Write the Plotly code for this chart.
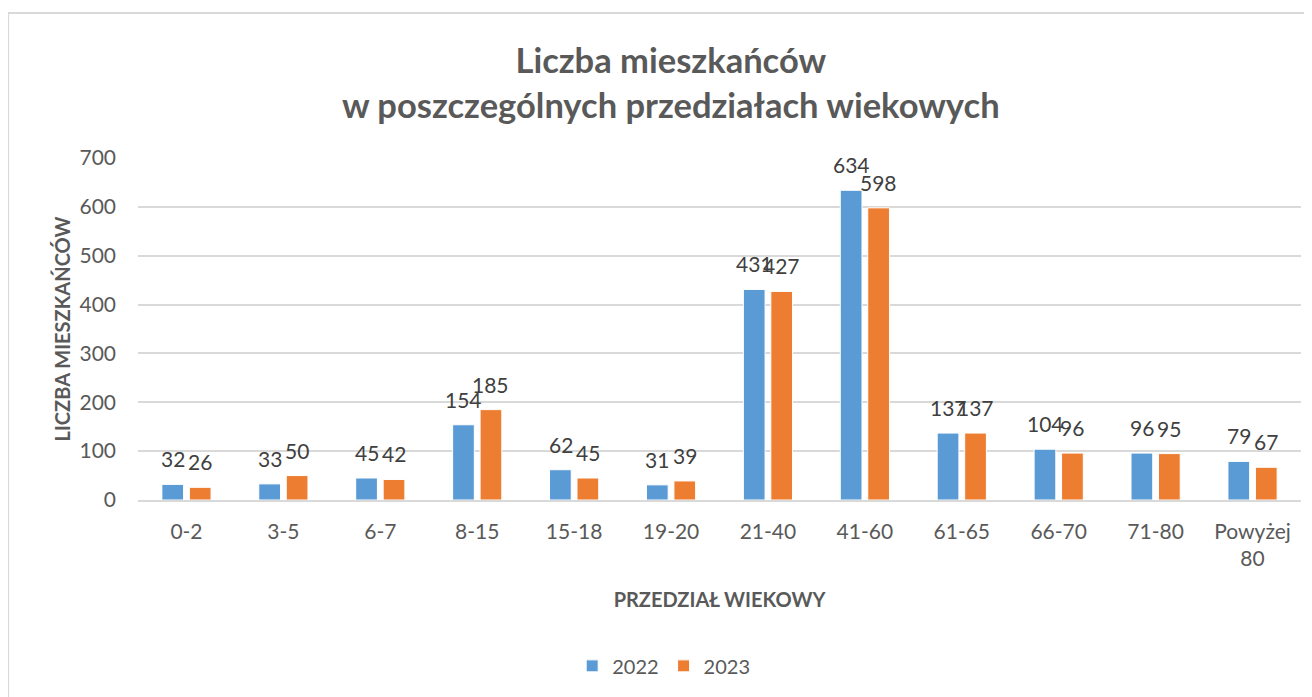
import plotly.graph_objects as go

categories = ["0-2", "3-5", "6-7", "8-15", "15-18", "19-20", "21-40", "41-60",
              "61-65", "66-70", "71-80", "Powyżej<br>80"]
values_2022 = [32, 33, 45, 154, 62, 31, 431, 634, 137, 104, 96, 79]
values_2023 = [26, 50, 42, 185, 45, 39, 427, 598, 137, 96, 95, 67]
series_names = ["2022", "2023"]
y_ticks = [0, 100, 200, 300, 400, 500, 600, 700]

BLUE = "#5B9BD5"
ORANGE = "#ED7D31"
TXT = "#595959"
FONT = "Lato"

fig = go.Figure()
for name, vals, col in [(series_names[0], values_2022, BLUE), (series_names[1], values_2023, ORANGE)]:
    fig.add_trace(go.Bar(
        x=categories, y=vals, name=name,
        marker=dict(color=col, line=dict(color="white", width=1)),
    ))

annotations = []
for vals, shift in [(values_2022, -13.6), (values_2023, 13.6)]:
    for c, v in zip(categories, vals):
        annotations.append(dict(
            x=c, y=v, xref="x", yref="y", text=str(v), showarrow=False,
            xshift=shift, yshift=11, yanchor="bottom",
            font=dict(family=FONT, size=21, color="#404040"),
        ))

annotations.append(dict(
    x=0.458, y=1.222, xref="paper", yref="paper", showarrow=False,
    text="<b>Liczba mieszkańców<br>w poszczególnych przedziałach wiekowych</b>",
    font=dict(family=FONT, size=34.5, color=TXT), xanchor="center", yanchor="middle",
))

fig.update_layout(
    width=1304, height=689,
    margin=dict(l=130, r=11, t=150, b=189),
    paper_bgcolor="white", plot_bgcolor="white",
    barmode="group", bargap=0.433, bargroupgap=0.21,
    font=dict(family=FONT, color=TXT),
    annotations=annotations,
    showlegend=True,
    legend=dict(orientation="h", x=0.452, xanchor="center", y=-0.485, yanchor="middle",
                font=dict(family=FONT, size=20, color=TXT), itemwidth=30,
                traceorder="normal"),
    shapes=[dict(type="rect", xref="paper", yref="paper",
                 x0=-0.1117, x1=1.03, y0=-0.62, y1=1.424,
                 line=dict(color="#D9D9D9", width=2), layer="below")],
)
fig.update_xaxes(
    tickfont=dict(family=FONT, size=21, color=TXT),
    showline=True, linecolor="#D9D9D9", linewidth=1.5,
    ticks="", showgrid=False, ticklabelstandoff=12,
    title=dict(text="<b>PRZEDZIAŁ WIEKOWY</b>", font=dict(family=FONT, size=20, color=TXT), standoff=24),
)
fig.update_yaxes(
    range=[0, 700], tickvals=y_ticks,
    tickfont=dict(family=FONT, size=21, color=TXT),
    showgrid=True, gridcolor="#D9D9D9", gridwidth=1.5,
    zeroline=False, ticks="", ticklabelstandoff=21,
    title=dict(text="<b>LICZBA MIESZKAŃCÓW</b>", font=dict(family=FONT, size=20, color=TXT), standoff=3),
)
fig.write_html("out.html")
